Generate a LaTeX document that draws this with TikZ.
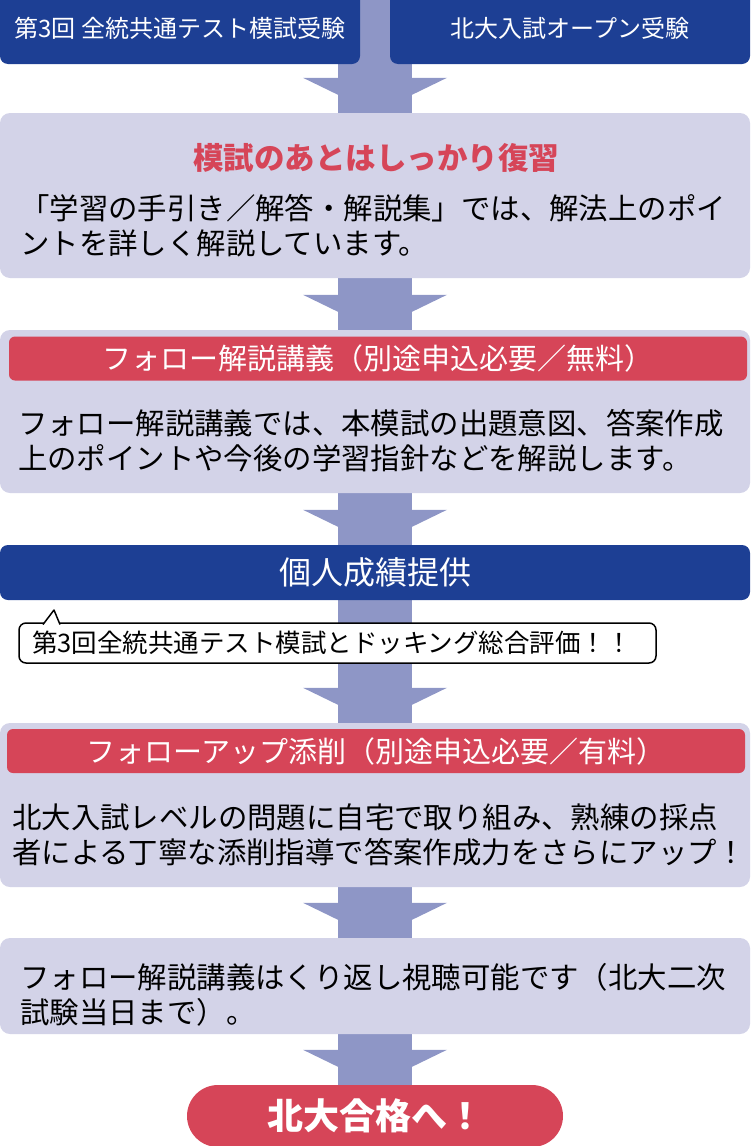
\documentclass[tikz,border=0pt]{standalone}
\usepackage{fontspec}
\setmainfont{Noto Sans CJK JP}
\usepackage{xcolor}
\usepackage{tikz}
\usetikzlibrary{backgrounds}

\definecolor{navy}{RGB}{29,63,148}
\definecolor{lav}{RGB}{211,211,232}
\definecolor{shaftc}{RGB}{142,150,198}
\definecolor{rose}{RGB}{214,69,88}

\tikzset{
  topbox/.style={fill=navy, text=white, rounded corners=8pt, minimum width=360pt, minimum height=72pt, inner sep=0pt, font=\fontsize{24}{30}\selectfont},
  panel/.style={fill=lav, rounded corners=10pt, minimum width=750pt, inner sep=0pt},
  redbar/.style={fill=rose, text=white, rounded corners=6pt, minimum width=738pt, minimum height=44pt, inner sep=0pt, font=\fontsize{29}{32}\selectfont},
  bodytext/.style={anchor=west, align=left, inner sep=0pt, font=\fontsize{29.4}{35}\selectfont},
  bubble/.style={draw=black, line width=1.5pt, fill=white, rounded corners=7pt, minimum height=40pt, inner xsep=13pt, inner ysep=0pt, text width=611pt, align=left, font=\fontsize{25.5}{30}\selectfont}
}

\begin{document}
\begin{tikzpicture}[x=1pt, y=-1pt]
\useasboundingbox (0,0) rectangle (750,1146);

\coordinate (top) at (375,0);
\node[topbox] (mock) at (180,28) {\raisebox{-4pt}{第3回 全統共通テスト模試受験}};
\node[topbox] (open) at (570,28) {\raisebox{-4pt}{北大入試オープン受験}};

\node[panel, minimum height=165pt] (review) at (375,195.5) {};
\node[text=rose, inner sep=0pt, font=\bfseries\fontsize{30.5}{34}\selectfont] (revtitle) at (376,158) {模試のあとはしっかり復習};
\node[bodytext] (revtext) at (20,226) {「学習の手引き／解答・解説集」では、解法上のポイ\\ントを詳しく解説しています。};

\node[panel, minimum height=163pt] (lecture) at (375,411.5) {};
\node[redbar] (lecbar) at (378,358.5) {フォロー解説講義（別途申込必要／無料）};
\node[bodytext] (lectext) at (18,441) {フォロー解説講義では、本模試の出題意図、答案作成\\上のポイントや今後の学習指針などを解説します。};

\node[fill=navy, text=white, rounded corners=8pt, minimum width=750pt, minimum height=55pt, inner sep=0pt, font=\fontsize{32}{36}\selectfont] (score) at (375,572.5) {個人成績提供};
\node[bubble] (note) at (337.5,643) {第3回全統共通テスト模試とドッキング総合評価！！};
\draw[line width=1.5pt, fill=white, line join=round] (43,624.5) -- (54,610) -- (60,624.5);

\node[panel, minimum height=164pt] (followup) at (375,805) {};
\node[redbar] (folbar) at (376,751) {フォローアップ添削（別途申込必要／有料）};
\node[bodytext] (foltext) at (12,835) {北大入試レベルの問題に自宅で取り組み、熟練の採点\\者による丁寧な添削指導で答案作成力をさらにアップ！};

\node[panel, minimum height=96pt] (replay) at (375,986) {};
\node[bodytext] (reptext) at (20,995) {フォロー解説講義はくり返し視聴可能です（北大二次\\試験当日まで）。};

\node[fill=rose, text=white, rounded corners=31pt, minimum width=376pt, minimum height=62pt, inner sep=0pt, font=\bfseries\fontsize{36}{40}\selectfont] (goal) at (375,1116) {北大合格へ！};

\begin{scope}[on background layer]
\draw[shaftc, line width=74pt] (top) -- (goal.north);
\foreach \b in {review,lecture,score,followup,replay,goal}
  \fill[shaftc] ([shift={(-72,-35)}]\b.north) -- (\b.north) -- ([shift={(72,-35)}]\b.north) -- cycle;
\end{scope}
\end{tikzpicture}
\end{document}
